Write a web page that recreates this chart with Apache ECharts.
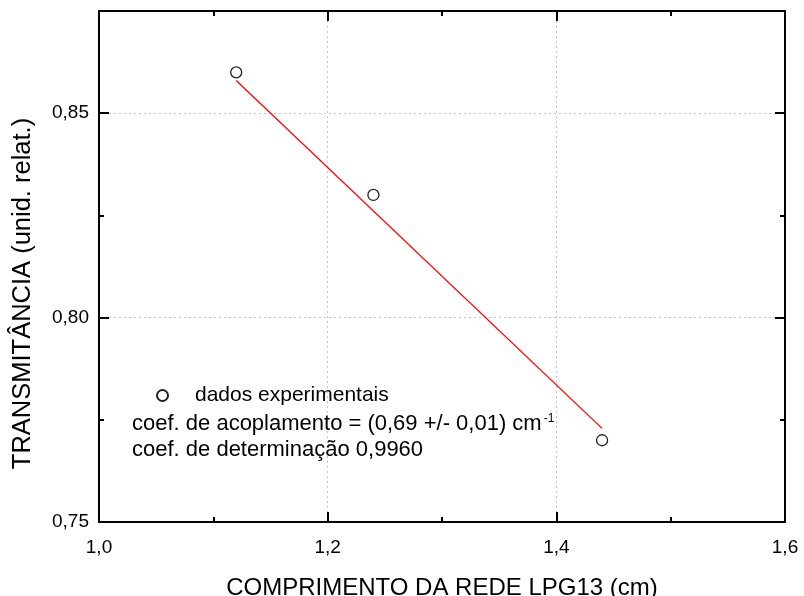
<!DOCTYPE html>
<html>
<head>
<meta charset="utf-8">
<script src="https://cdn.jsdelivr.net/npm/echarts@6/dist/echarts.min.js"></script>
<style>
html,body{margin:0;padding:0;background:#fff;}
#chart{width:804px;height:596px;}
</style>
</head>
<body>
<div id="chart"></div>
<script>
// Experimental data
var lengthsCm = [1.12, 1.24, 1.44];
var transmittance = [0.86, 0.83, 0.77];
// Fitted line (endpoints)
var fitX = [1.12, 1.44];
var fitY = [0.858, 0.7729];
// Axis settings
var xTicks = [1.0, 1.2, 1.4, 1.6];
var yTicks = [0.75, 0.80, 0.85];
var xTitle = 'COMPRIMENTO DA REDE LPG13 (cm)';
var yTitle = 'TRANSMITÂNCIA (unid. relat.)';
var legendName = 'dados experimentais';
var noteLine1 = 'coef. de acoplamento = (0,69 +/- 0,01) cm';
var noteSup = '-1';
var noteLine2 = 'coef. de determinação 0,9960';

var FONT = '"Liberation Sans", Arial, Helvetica, sans-serif';

function fmt(v, step, dec) {
  var k = v / step;
  if (Math.abs(k - Math.round(k)) > 1e-6) return '';
  return v.toFixed(dec).replace('.', ',');
}

var chart = echarts.init(document.getElementById('chart'), null, {renderer: 'canvas'});

var baseX = {
  type: 'value', min: xTicks[0], max: xTicks[xTicks.length - 1], interval: 0.2,
  axisLine: {show: true, onZero: false, lineStyle: {color: '#000', width: 2}},
  axisTick: {show: true, inside: true, length: 10, lineStyle: {color: '#000', width: 2}},
  minorTick: {show: true, splitNumber: 2, length: 5, lineStyle: {color: '#000', width: 2}},
  splitLine: {show: false}
};
var baseY = {
  type: 'value', min: yTicks[0], max: 0.875, interval: 0.05,
  axisLine: {show: true, onZero: false, lineStyle: {color: '#000', width: 2}},
  axisTick: {show: true, inside: true, length: 10, lineStyle: {color: '#000', width: 2}},
  minorTick: {show: true, splitNumber: 2, length: 5, lineStyle: {color: '#000', width: 2}},
  splitLine: {show: false}
};

var option = {
  backgroundColor: '#fff',
  animation: false,
  grid: {left: 99, right: 19, top: 11, bottom: 74, containLabel: false, outerBoundsMode: 'none'},
  legend: {
    show: true,
    data: [{name: legendName}],
    left: 151, top: 380,
    orient: 'vertical',
    itemWidth: 11, itemHeight: 11,
    textStyle: {fontFamily: FONT, fontSize: 21, color: '#000', padding: [0, 0, 0, 22]},
    selectedMode: false
  },
  xAxis: [
    Object.assign({}, baseX, {
      position: 'bottom',
      name: xTitle, nameLocation: 'middle', nameGap: 54,
      nameTextStyle: {fontFamily: FONT, fontSize: 24, color: '#000'},
      axisLabel: {show: true, margin: 16, fontFamily: FONT, fontSize: 19, color: '#000',
        formatter: function (v) { return fmt(v, 0.2, 1); }},
      splitLine: {show: true, lineStyle: {color: '#c4c4c4', width: 1, type: [2, 3]}}
    }),
    Object.assign({}, baseX, {position: 'top', axisLabel: {show: false}})
  ],
  yAxis: [
    Object.assign({}, baseY, {
      position: 'left',
      name: yTitle, nameLocation: 'middle', nameGap: 63, nameRotate: 90,
      nameTextStyle: {fontFamily: FONT, fontSize: 25.5, color: '#000', padding: [0, 54, 0, 0]},
      axisLabel: {show: true, margin: 10, fontFamily: FONT, fontSize: 19, color: '#000',
        formatter: function (v) { return fmt(v, 0.05, 2); }},
      splitLine: {show: true, lineStyle: {color: '#c4c4c4', width: 1, type: [2, 3]}}
    }),
    Object.assign({}, baseY, {position: 'right', axisLabel: {show: false}})
  ],
  graphic: [
    {
      type: 'text', x: 132, y: 424, z: 100,
      style: {
        text: '{a|' + noteLine1 + '}{s|' + noteSup + '}',
        verticalAlign: 'middle',
        rich: {
          a: {fontFamily: FONT, fontSize: 22, fill: '#000', color: '#000'},
          s: {fontFamily: FONT, fontSize: 12, fill: '#000', color: '#000', verticalAlign: 'top', padding: [0, 0, 0, 2]}
        }
      }
    },
    {
      type: 'text', x: 132, y: 450, z: 100,
      style: {text: noteLine2, fontFamily: FONT, fontSize: 22, fill: '#000', verticalAlign: 'middle'}
    }
  ],
  series: [
    {
      name: 'ajuste',
      type: 'line',
      data: fitX.map(function (x, i) { return [x, fitY[i]]; }),
      showSymbol: false,
      symbol: 'none',
      lineStyle: {color: '#ff0000', width: 1.3},
      z: 2
    },
    {
      name: legendName,
      type: 'scatter',
      data: lengthsCm.map(function (x, i) { return [x, transmittance[i]]; }),
      symbol: 'circle',
      symbolSize: 11,
      itemStyle: {color: '#fff', borderColor: '#222', borderWidth: 1.3, opacity: 1},
      z: 3
    }
  ]
};
chart.setOption(option);
</script>
</body>
</html>
